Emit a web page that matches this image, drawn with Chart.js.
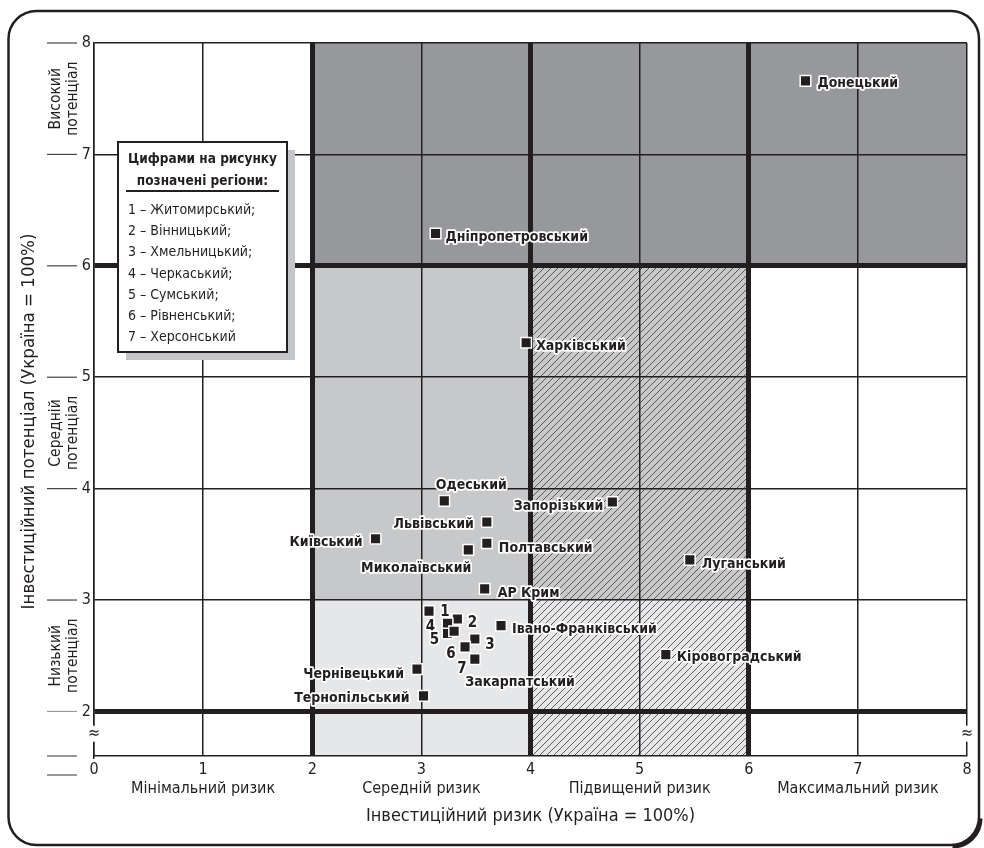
<!DOCTYPE html>
<html><head><meta charset="utf-8">
<script src="https://cdn.jsdelivr.net/npm/chart.js@4.4.1/dist/chart.umd.min.js"></script>
<style>html,body{margin:0;padding:0;background:#fff}canvas{display:block}</style>
</head><body>
<canvas id="c" width="984" height="848"></canvas>
<script>
// ---------- DATA ----------
const regionNames = ['Донецький','Дніпропетровський','Харківський','Одеський','Запорізький','Львівський','Київський','Полтавський','Миколаївський','Луганський','АР Крим','Івано-Франківський','Кіровоградський','Чернівецький','Тернопільський','Закарпатський'];
const riskValues      = [6.52, 3.13, 3.96, 3.21, 4.75, 3.60, 2.58, 3.60, 3.43, 5.46, 3.58, 3.73, 5.24, 2.96, 3.02, 3.30];
const potentialValues = [7.66, 6.29, 5.31, 3.89, 3.88, 3.70, 3.55, 3.51, 3.45, 3.36, 3.10, 2.77, 2.51, 2.38, 2.14, 2.72];

const numberedNames     = ['Житомирський','Вінницький','Хмельницький','Черкаський','Сумський','Рівненський','Херсонський'];
const numberedRisk      = [3.07, 3.33, 3.49, 3.24, 3.24, 3.40, 3.49];
const numberedPotential = [2.90, 2.83, 2.65, 2.79, 2.70, 2.58, 2.47];

const xTickLabels = ['0','1','2','3','4','5','6','7','8'];
const yTickValues = [2,3,4,5,6,7,8];
const riskCategories = ['Мінімальний ризик','Середній ризик','Підвищений ризик','Максимальний ризик'];
const riskCategoryAt = [1,3,5,7];
const potentialCategories = [['Високий','потенціал'],['Середній','потенціал'],['Низький','потенціал']];
const potentialCategoryAt = [7.5,4.5,2.5];
const legendTitle = ['Цифрами на рисунку','позначені регіони:'];
const xTitle = 'Інвестиційний ризик (Україна = 100%)';
const yTitle = 'Інвестиційний потенціал (Україна = 100%)';
const xMin = 0, xMax = 8, yMin = 1.6, yMax = 8;

// zone boundaries (axis units)
const zoneX0 = [2, 2, 4, 2, 4];
const zoneX1 = [8, 4, 6, 4, 6];
const zoneY0 = [6, 3, 3, yMin, yMin];
const zoneY1 = [8, 6, 6, 3, 3];

// ---------- STYLE ----------
const FONT = '"DejaVu Sans Condensed", "DejaVu Sans", sans-serif';
const INK = '#231f20';
const zoneFill = ['#97989b', '#c7c8ca', '#c7c8ca', '#e6e7e8', '#e6e7e8'];
const zoneHatch = [false, false, true, false, true];
// label placement: [align, dx, dy]
const namedLabelPos = [
  ['left',12,2],['left',10,4],['left',10,4],['center',27,-16],['right',-9,4],['right',-13,2],
  ['right',-13,4],['left',12,5],['right',3,18],['left',12,4],['left',13,4],['left',11,4],
  ['left',11,3],['right',-13,5],['right',-14,3],['center',66,51]
];
const numLabelPos = [[16,1],[15,4],[15,6],[-17,4],[-13,7],[-14,7],[-13,10]];

function hatchPattern(ctx, bg) {
  const c = document.createElement('canvas');
  const s = 7;
  c.width = s; c.height = s;
  const g = c.getContext('2d');
  g.fillStyle = bg; g.fillRect(0,0,s,s);
  g.strokeStyle = '#3a3a3a'; g.lineWidth = 0.8;
  g.beginPath();
  g.moveTo(-1, s+1); g.lineTo(s+1, -1);
  g.moveTo(-1, 1); g.lineTo(1, -1);
  g.moveTo(s-1, s+1); g.lineTo(s+1, s-1);
  g.stroke();
  return ctx.createPattern(c, 'repeat');
}

function haloText(ctx, text, x, y) {
  ctx.lineJoin = 'round';
  ctx.lineWidth = 3.5;
  ctx.strokeStyle = '#ffffff';
  ctx.strokeText(text, x, y);
  ctx.fillStyle = INK;
  ctx.fillText(text, x, y);
}

const decorPlugin = {
  id: 'decor',
  beforeDraw(chart) {
    const ctx = chart.ctx;
    const W = chart.width, H = chart.height;
    ctx.save();
    ctx.fillStyle = '#fff';
    ctx.fillRect(0,0,W,H);
    // frame
    const L = 8.5, T = 11, R = 979, B = 845, r = 28;
    ctx.beginPath();
    ctx.moveTo(L + r, T);
    ctx.lineTo(R - r, T);
    ctx.arcTo(R, T, R, T + r, r);
    ctx.lineTo(R, B - r);
    ctx.arcTo(R, B, R - r, B, r);
    ctx.lineTo(L + r, B);
    ctx.arcTo(L, B, L, B - r, r);
    ctx.lineTo(L, T + r);
    ctx.arcTo(L, T, L + r, T, r);
    ctx.closePath();
    ctx.lineWidth = 2.5;
    ctx.strokeStyle = INK;
    ctx.stroke();
    // thicker bottom-right corner
    ctx.beginPath();
    ctx.arc(R - r + 1.5, B - r + 1.5, r, 0, Math.PI/2);
    ctx.lineWidth = 4;
    ctx.stroke();
    // zones
    const xs = chart.scales.x, ys = chart.scales.y;
    for (let i = 0; i < zoneX0.length; i++) {
      const x0 = xs.getPixelForValue(zoneX0[i]), x1 = xs.getPixelForValue(zoneX1[i]);
      const y0 = ys.getPixelForValue(zoneY0[i]), y1 = ys.getPixelForValue(zoneY1[i]);
      ctx.fillStyle = zoneHatch[i] ? hatchPattern(ctx, zoneFill[i]) : zoneFill[i];
      ctx.fillRect(x0, y1, x1 - x0, y0 - y1);
    }
    ctx.restore();
  },
  afterDraw(chart) {
    const ctx = chart.ctx;
    const xs = chart.scales.x, ys = chart.scales.y;
    const ca = chart.chartArea;
    ctx.save();
    // outer tick dashes on left
    ctx.lineWidth = 1.2;
    yTickValues.forEach(v => {
      const y = ys.getPixelForValue(v);
      ctx.strokeStyle = v === 2 ? '#9a9a9a' : '#444';
      ctx.beginPath(); ctx.moveTo(47, y); ctx.lineTo(77, y); ctx.stroke();
    });
    ctx.strokeStyle = '#555';
    [ca.bottom, ca.bottom + 19].forEach(y => {
      ctx.beginPath(); ctx.moveTo(47, y); ctx.lineTo(77, y); ctx.stroke();
    });
    // break marks
    const by = ys.getPixelForValue(1.8);
    ctx.font = '16px ' + FONT;
    ctx.textAlign = 'center'; ctx.textBaseline = 'middle';
    [ca.left, ca.right].forEach(x => {
      ctx.fillStyle = '#fff';
      ctx.fillRect(x - 5, by - 8, 10, 16);
      ctx.fillStyle = INK;
      ctx.fillText('≈', x, by);
    });
    // potential category labels (rotated)
    ctx.font = '15.5px ' + FONT;
    ctx.fillStyle = INK;
    potentialCategories.forEach((lines, i) => {
      const y = ys.getPixelForValue(potentialCategoryAt[i]);
      ctx.save();
      ctx.translate(56, y);
      ctx.rotate(-Math.PI/2);
      ctx.textAlign = 'center'; ctx.textBaseline = 'middle';
      ctx.fillText(lines[0], 0, 0);
      ctx.fillText(lines[1], 0, 17);
      ctx.restore();
    });
    // y title
    ctx.save();
    ctx.font = '18.5px ' + FONT;
    ctx.translate(29, (ca.top + ca.bottom)/2 + 22);
    ctx.rotate(-Math.PI/2);
    ctx.textAlign = 'center'; ctx.textBaseline = 'middle';
    ctx.fillText(yTitle, 0, 0);
    ctx.restore();

    // legend box
    const bx = ca.left + 24, bt = ca.top + 99, bw = 169, bh = 210;
    ctx.fillStyle = '#c4c5c7';
    ctx.fillRect(bx + 8, bt + 8, bw, bh);
    ctx.fillStyle = '#fff';
    ctx.fillRect(bx, bt, bw, bh);
    ctx.lineWidth = 2; ctx.strokeStyle = INK;
    ctx.strokeRect(bx, bt, bw, bh);
    ctx.fillStyle = INK;
    ctx.font = 'bold 13.5px ' + FONT;
    ctx.textAlign = 'center'; ctx.textBaseline = 'middle';
    ctx.fillText(legendTitle[0], bx + bw/2, bt + 17);
    ctx.fillText(legendTitle[1], bx + bw/2, bt + 39);
    ctx.lineWidth = 2;
    ctx.beginPath(); ctx.moveTo(bx + 8, bt + 49); ctx.lineTo(bx + bw - 8, bt + 49); ctx.stroke();
    ctx.font = '14px ' + FONT;
    ctx.textAlign = 'left';
    numberedNames.forEach((n, i) => {
      ctx.fillText((i+1) + ' – ' + n + (i < numberedNames.length - 1 ? ';' : ''), bx + 10, bt + 68 + i*21.3);
    });
    ctx.restore();
  },
  afterDatasetsDraw(chart) {
    const ctx = chart.ctx;
    ctx.save();
    ctx.textBaseline = 'middle';
    ctx.font = 'bold 14px ' + FONT;
    const m0 = chart.getDatasetMeta(0);
    regionNames.forEach((name, i) => {
      const p = m0.data[i];
      const [al, dx, dy] = namedLabelPos[i];
      ctx.textAlign = al;
      haloText(ctx, name, p.x + dx, p.y + dy);
    });
    ctx.font = 'bold 15px ' + FONT;
    ctx.textAlign = 'center';
    const m1 = chart.getDatasetMeta(1);
    numberedNames.forEach((name, i) => {
      const p = m1.data[i];
      const [dx, dy] = numLabelPos[i];
      haloText(ctx, String(i+1), p.x + dx, p.y + dy);
    });
    ctx.restore();
  }
};

const pointStyleOpts = {
  pointStyle: 'rect', pointRadius: 7.5, pointHoverRadius: 7.5,
  backgroundColor: INK, borderColor: '#ffffff', borderWidth: 1.5
};

new Chart(document.getElementById('c'), {
  type: 'scatter',
  data: {
    datasets: [
      Object.assign({ label: 'Регіони', data: regionNames.map((n,i) => ({x: riskValues[i], y: potentialValues[i]})) }, pointStyleOpts),
      Object.assign({ label: 'Позначені цифрами', data: numberedNames.map((n,i) => ({x: numberedRisk[i], y: numberedPotential[i]})) }, pointStyleOpts)
    ]
  },
  options: {
    responsive: false,
    animation: false,
    devicePixelRatio: 1,
    layout: { padding: { left: 0, right: 17, top: 43, bottom: 0 } },
    plugins: { legend: { display: false }, tooltip: { enabled: false } },
    scales: {
      x: {
        type: 'linear', min: xMin, max: xMax,
        afterFit(s) { s.height = 92; },
        ticks: {
          stepSize: 1, padding: 4, color: INK,
          maxRotation: 0, minRotation: 0, autoSkip: false,
          font: { family: FONT, size: 16 },
          callback(v, idx) {
            const k = riskCategoryAt.indexOf(v);
            return k >= 0 ? [xTickLabels[idx], riskCategories[k]] : xTickLabels[idx];
          }
        },
        grid: {
          drawTicks: false, color: INK,
          lineWidth: c => (c.tick && [2,4,6].includes(c.tick.value)) ? 5 : 1.5
        },
        border: { display: true, color: INK, width: 1.5 },
        title: { display: true, text: xTitle, color: INK, font: { family: FONT, size: 18 }, padding: { top: 0, bottom: 21 } }
      },
      y: {
        type: 'linear', min: yMin, max: yMax,
        afterFit(s) { s.width = 94; },
        afterBuildTicks(s) { s.ticks = yTickValues.map(v => ({ value: v })); },
        ticks: { padding: 3, color: INK, font: { family: FONT, size: 16 } },
        grid: {
          drawTicks: false, color: INK,
          lineWidth: c => (c.tick && [2,6].includes(c.tick.value)) ? 5 : 1.5
        },
        border: { display: true, color: INK, width: 1.5 }
      }
    }
  },
  plugins: [decorPlugin]
});
</script>
</body></html>
